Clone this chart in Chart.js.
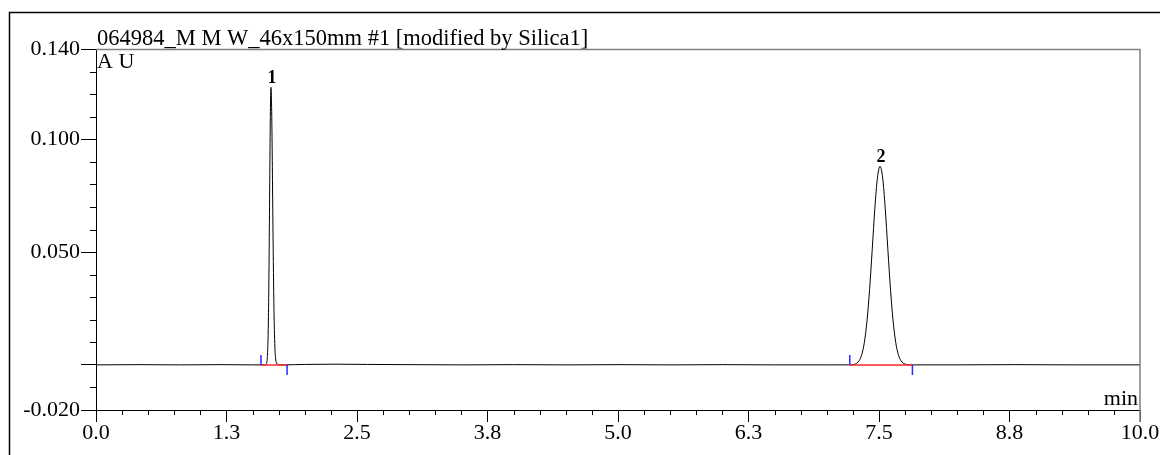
<!DOCTYPE html>
<html>
<head>
<meta charset="utf-8">
<script src="https://cdn.jsdelivr.net/npm/chart.js@4.4.0/dist/chart.umd.min.js"></script>
<style>
  html, body { margin: 0; padding: 0; background: #fff; }
  canvas { display: block; }
</style>
</head>
<body>
<canvas id="chromChart" width="1160" height="455"></canvas>
<script>
const titleText = '064984_M M W_46x150mm #1 [modified by Silica1]';
const yUnit = 'A U';
const xUnit = 'min';

// chromatogram trace (min, AU)
const timeMin = [
  0.00, 0.40, 0.80, 1.20, 1.50, 1.60, 1.626, 1.636, 1.641, 1.646, 1.651, 1.656, 1.661, 1.666, 1.671,
  1.676, 1.681, 1.686, 1.691, 1.696, 1.701, 1.706, 1.711, 1.716, 1.726, 1.736, 1.756, 1.80,
  2.00, 2.30, 2.60, 3.00, 3.50, 4.00, 4.50, 5.00, 5.50, 6.00, 6.50, 7.00, 7.21,
  7.26, 7.31, 7.335, 7.36, 7.385, 7.41, 7.435, 7.46, 7.485, 7.51, 7.535, 7.56, 7.585, 7.61,
  7.635, 7.66, 7.685, 7.71, 7.76, 7.81, 8.20, 8.80, 9.40, 10.00
];
const signalAU = [
  0.0000, 0.0001, 0.0000, 0.0001, 0.0000, 0.0000, 0.0001, 0.0011, 0.0033, 0.0086, 0.0194, 0.0377, 0.0632, 0.0915, 0.1143,
  0.1230, 0.1171, 0.1012, 0.0793, 0.0563, 0.0363, 0.0212, 0.0113, 0.0054, 0.0012, 0.0004, 0.0001, 0.0000,
  0.0002, 0.0003, 0.0002, 0.0001, 0.0000, 0.0001, 0.0000, 0.0001, 0.0000, 0.0001, 0.0000, 0.0000, 0.0000,
  0.0002, 0.0019, 0.0046, 0.0100, 0.0195, 0.0335, 0.0511, 0.0692, 0.0829, 0.0880, 0.0829, 0.0692, 0.0511, 0.0335,
  0.0195, 0.0100, 0.0046, 0.0019, 0.0002, 0.0000, 0.0000, 0.0001, 0.0000, 0.0000
];

const xTickValues = [0, 1.25, 2.5, 3.75, 5, 6.25, 7.5, 8.75, 10];
const xTickLabels = ['0.0', '1.3', '2.5', '3.8', '5.0', '6.3', '7.5', '8.8', '10.0'];
const yTickValues = [-0.02, 0, 0.05, 0.1, 0.14];
const yTickLabels = ['-0.020', '', '0.050', '0.100', '0.140'];

// peak table
const peakNames = ['1', '2'];
const peakTimes = [1.676, 7.51];
const peakHeights = [0.123, 0.088];
const baseStart = [1.58, 7.22];
const baseEnd = [1.83, 7.82];

const FONT = "'Liberation Serif', 'Times New Roman', serif";

const baseLine = [];
peakNames.forEach((p, i) => {
  baseLine.push({ x: baseStart[i], y: 0 }, { x: baseEnd[i], y: 0 }, { x: baseEnd[i], y: null });
});

const decor = {
  id: 'decor',
  beforeDraw(chart) {
    const c = chart.ctx;
    c.save();
    c.fillStyle = '#fff';
    c.fillRect(0, 0, chart.width, chart.height);
    c.strokeStyle = '#000';
    c.lineWidth = 1.5;
    c.beginPath();
    c.moveTo(9.5, chart.height + 5);
    c.lineTo(9.5, 12.5);
    c.lineTo(chart.width + 5, 12.5);
    c.stroke();
    c.restore();
  },
  afterDraw(chart) {
    const c = chart.ctx, a = chart.chartArea;
    const xs = chart.scales.x, ys = chart.scales.y;
    c.save();
    // grey frame top/right
    c.strokeStyle = '#808080';
    c.lineWidth = 1.5;
    c.beginPath();
    c.moveTo(a.left, Math.round(a.top) + 0.5);
    c.lineTo(a.right, Math.round(a.top) + 0.5);
    c.lineTo(a.right, a.bottom + 12);
    c.stroke();

    // minor ticks
    c.strokeStyle = '#000';
    c.lineWidth = 1;
    c.beginPath();
    for (let v = 0.25; v < 10; v += 0.25) {
      if (xTickValues.some(t => Math.abs(t - v) < 1e-6)) continue;
      const px = Math.round(xs.getPixelForValue(v)) + 0.5;
      c.moveTo(px, a.bottom);
      c.lineTo(px, a.bottom + 5);
    }
    for (let v = -0.01; v < 0.14; v += 0.01) {
      if (yTickValues.some(t => Math.abs(t - v) < 1e-6)) continue;
      const py = Math.round(ys.getPixelForValue(v)) + 0.5;
      c.moveTo(a.left - 6, py);
      c.lineTo(a.left, py);
    }
    c.stroke();

    // integration marks
    c.strokeStyle = '#2a2aff';
    c.lineWidth = 1.5;
    c.beginPath();
    const y0 = ys.getPixelForValue(0);
    peakNames.forEach((p, i) => {
      const s = xs.getPixelForValue(baseStart[i]);
      const e = xs.getPixelForValue(baseEnd[i]);
      c.moveTo(s, y0); c.lineTo(s, y0 - 10);
      c.moveTo(e, y0); c.lineTo(e, y0 + 10);
    });
    c.stroke();

    // peak labels
    c.fillStyle = '#000';
    c.font = 'bold 18px ' + FONT;
    c.textAlign = 'center';
    c.textBaseline = 'alphabetic';
    peakNames.forEach((p, i) => {
      c.fillText(p, xs.getPixelForValue(peakTimes[i]) + 1, ys.getPixelForValue(peakHeights[i]) - 4);
    });

    // title and units
    c.textAlign = 'left';
    c.font = '22.5px ' + FONT;
    c.fillText(titleText, a.left + 1, 45);
    c.font = '22px ' + FONT;
    c.fillText(yUnit, a.left + 1, 68);
    c.textAlign = 'right';
    c.fillText(xUnit, a.right - 2, 405);
    c.restore();
  }
};

new Chart(document.getElementById('chromChart'), {
  type: 'line',
  data: {
    datasets: [
      {
        data: baseLine,
        borderColor: '#ff2a2a',
        borderWidth: 1.5,
        pointRadius: 0,
        spanGaps: false,
        order: 1
      },
      {
        data: timeMin.map((t, i) => ({ x: t, y: signalAU[i] })),
        borderColor: '#000',
        borderWidth: 1,
        pointRadius: 0,
        cubicInterpolationMode: 'monotone',
        order: 2
      }
    ]
  },
  options: {
    responsive: false,
    animation: false,
    devicePixelRatio: 1,
    layout: { padding: { top: 49, right: 20, left: 0, bottom: 0 } },
    plugins: { legend: { display: false }, tooltip: { enabled: false } },
    scales: {
      x: {
        type: 'linear',
        min: 0,
        max: 10,
        afterBuildTicks: s => { s.ticks = xTickValues.map(v => ({ value: v })); },
        afterFit: s => { s.height = 45; s.paddingLeft = 0; s.paddingRight = 0; },
        ticks: {
          autoSkip: false,
          maxRotation: 0,
          padding: -2,
          color: '#000',
          font: { family: FONT, size: 22 },
          callback: (v, i) => xTickLabels[i]
        },
        grid: { drawOnChartArea: false, tickLength: 12, tickColor: '#000' },
        border: { color: '#000', width: 1 }
      },
      y: {
        min: -0.02,
        max: 0.14,
        afterBuildTicks: s => { s.ticks = yTickValues.map(v => ({ value: v })); },
        afterFit: s => { s.width = 96; s.paddingTop = 0; s.paddingBottom = 0; },
        ticks: {
          autoSkip: false,
          padding: 1,
          color: '#000',
          font: { family: FONT, size: 22 },
          callback: (v, i) => yTickLabels[i]
        },
        grid: { drawOnChartArea: false, tickLength: 15, tickColor: '#000' },
        border: { color: '#000', width: 1 }
      }
    }
  },
  plugins: [decor]
});
</script>
</body>
</html>
